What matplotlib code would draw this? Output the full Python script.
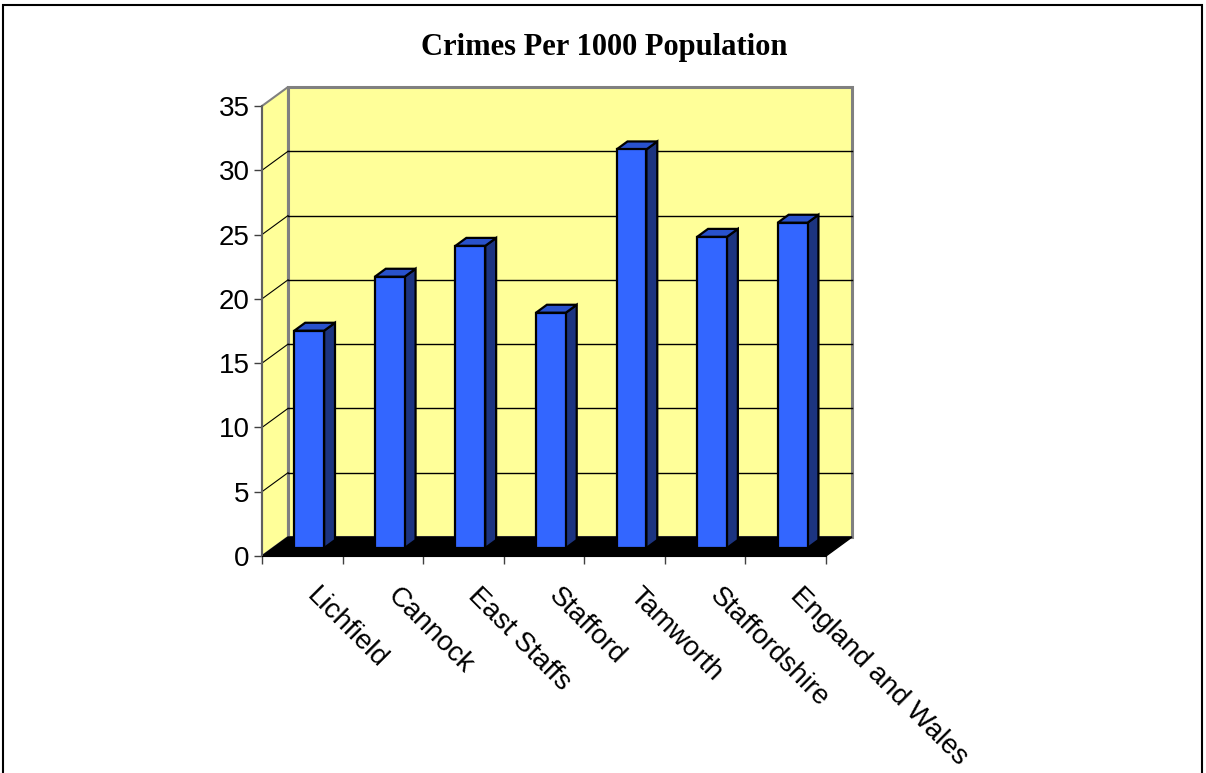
import matplotlib
matplotlib.use("Agg")
import matplotlib.pyplot as plt
from matplotlib.patches import Polygon, Rectangle
from matplotlib.transforms import ScaledTranslation

categories = ["Lichfield", "Cannock", "East Staffs", "Stafford", "Tamworth",
              "Staffordshire", "England and Wales"]
values = [16.9, 21.1, 23.5, 18.3, 31.0, 24.2, 25.3]
yticks = [0, 5, 10, 15, 20, 25, 30, 35]
title = "Crimes Per 1000 Population"

W, H = 1206, 773
fig = plt.figure(figsize=(W / 100, H / 100), dpi=100)
fig.patch.set_facecolor("white")

# front plane of the 3D box, in pixels
x0p, x1p, y0p, y1p = 262, 826, 556, 106
ax = fig.add_axes([x0p / W, (H - y0p) / H, (x1p - x0p) / W, (y0p - y1p) / H])
ax.patch.set_visible(False)
n = len(categories)
ymax = yticks[-1]
ax.set_xlim(0, n)
ax.set_ylim(0, ymax)

# depth offsets in data units
px_per_cat = (x1p - x0p) / n
px_per_val = (y0p - y1p) / ymax
DX = 26 / px_per_cat
DY = 19 / px_per_val

yellow = "#FFFF99"
gray = "#808080"

# left wall
ax.add_patch(Polygon([(0, 0), (0, ymax), (DX, ymax + DY), (DX, DY)], closed=True,
                     facecolor=yellow, edgecolor=gray, lw=1.5, clip_on=False, zorder=1))
# back wall
ax.add_patch(Polygon([(DX, DY), (DX, ymax + DY), (n + DX, ymax + DY), (n + DX, DY)], closed=True,
                     facecolor=yellow, edgecolor=gray, lw=2.2, clip_on=False, zorder=1))
# gridlines
for v in yticks[1:-1]:
    ax.plot([DX, n + DX], [v + DY, v + DY], color="black", lw=1.0, clip_on=False, zorder=2)
    ax.plot([0, DX], [v, v + DY], color="black", lw=0.8, clip_on=False, zorder=2)
# floor
ax.add_patch(Polygon([(0, 0), (n, 0), (n + DX, DY), (DX, DY)], closed=True,
                     facecolor="black", edgecolor="black", lw=1.0, clip_on=False, zorder=3))

# bars
front_c = "#3366FF"
side_c = "#1C3480"
top_c = "#2952CC"
f0 = 0.42          # depth fraction of bar front face
bd = 0.42          # bar depth fraction
bw = 0.37          # bar width (category units)
ddx, ddy = bd * DX, bd * DY
for i, v in enumerate(values):
    bx = i + 0.45 - bw / 2 + f0 * DX
    by = f0 * DY
    front = [(bx, by), (bx + bw, by), (bx + bw, by + v), (bx, by + v)]
    side = [(bx + bw, by), (bx + bw + ddx, by + ddy), (bx + bw + ddx, by + v + ddy), (bx + bw, by + v)]
    top = [(bx, by + v), (bx + bw, by + v), (bx + bw + ddx, by + v + ddy), (bx + ddx, by + v + ddy)]
    for poly, c in ((side, side_c), (top, top_c), (front, front_c)):
        ax.add_patch(Polygon(poly, closed=True, facecolor=c, edgecolor="black", lw=1.6,
                             joinstyle="miter", clip_on=False, zorder=5 + i))

# axes / ticks
for s in ("top", "right"):
    ax.spines[s].set_visible(False)
ax.spines["left"].set_color("#606060")
ax.spines["left"].set_linewidth(1.5)
ax.spines["left"].set_zorder(4)
ax.spines["bottom"].set_color("black")
ax.spines["bottom"].set_zorder(4)

ax.set_yticks(yticks)
ax.set_yticklabels([str(t) for t in yticks], fontsize=20, family="Liberation Sans")
ax.tick_params(axis="y", direction="out", length=6, width=1, color="#404040", pad=3)

ax.set_xticks(range(n + 1))
ax.set_xticklabels([""] * (n + 1))
ax.tick_params(axis="x", which="major", direction="out", length=6, width=1, color="#404040")
ax.set_xticks([i + 0.5 for i in range(n)], minor=True)
ax.set_xticklabels(categories, minor=True, rotation=-45, ha="left", va="top",
                   rotation_mode="anchor", fontsize=20, family="Liberation Sans")
ax.tick_params(axis="x", which="minor", length=0, pad=19)
shift = ScaledTranslation(18 / 100, 0, fig.dpi_scale_trans)
for lab in ax.get_xticklabels(minor=True):
    lab.set_transform(lab.get_transform() + shift)

# title
fig.text(604 / W, 1 - 48 / H, title, ha="center", va="center", fontsize=22,
         fontweight="bold", family="Liberation Serif")

# outer border
fig.patches.append(Rectangle((3 / W, -0.1), (1202 - 3) / W, 1.1 - 5 / H, transform=fig.transFigure,
                             fill=False, edgecolor="black", lw=1.5, zorder=0))

fig.savefig("out.png", dpi=100)
